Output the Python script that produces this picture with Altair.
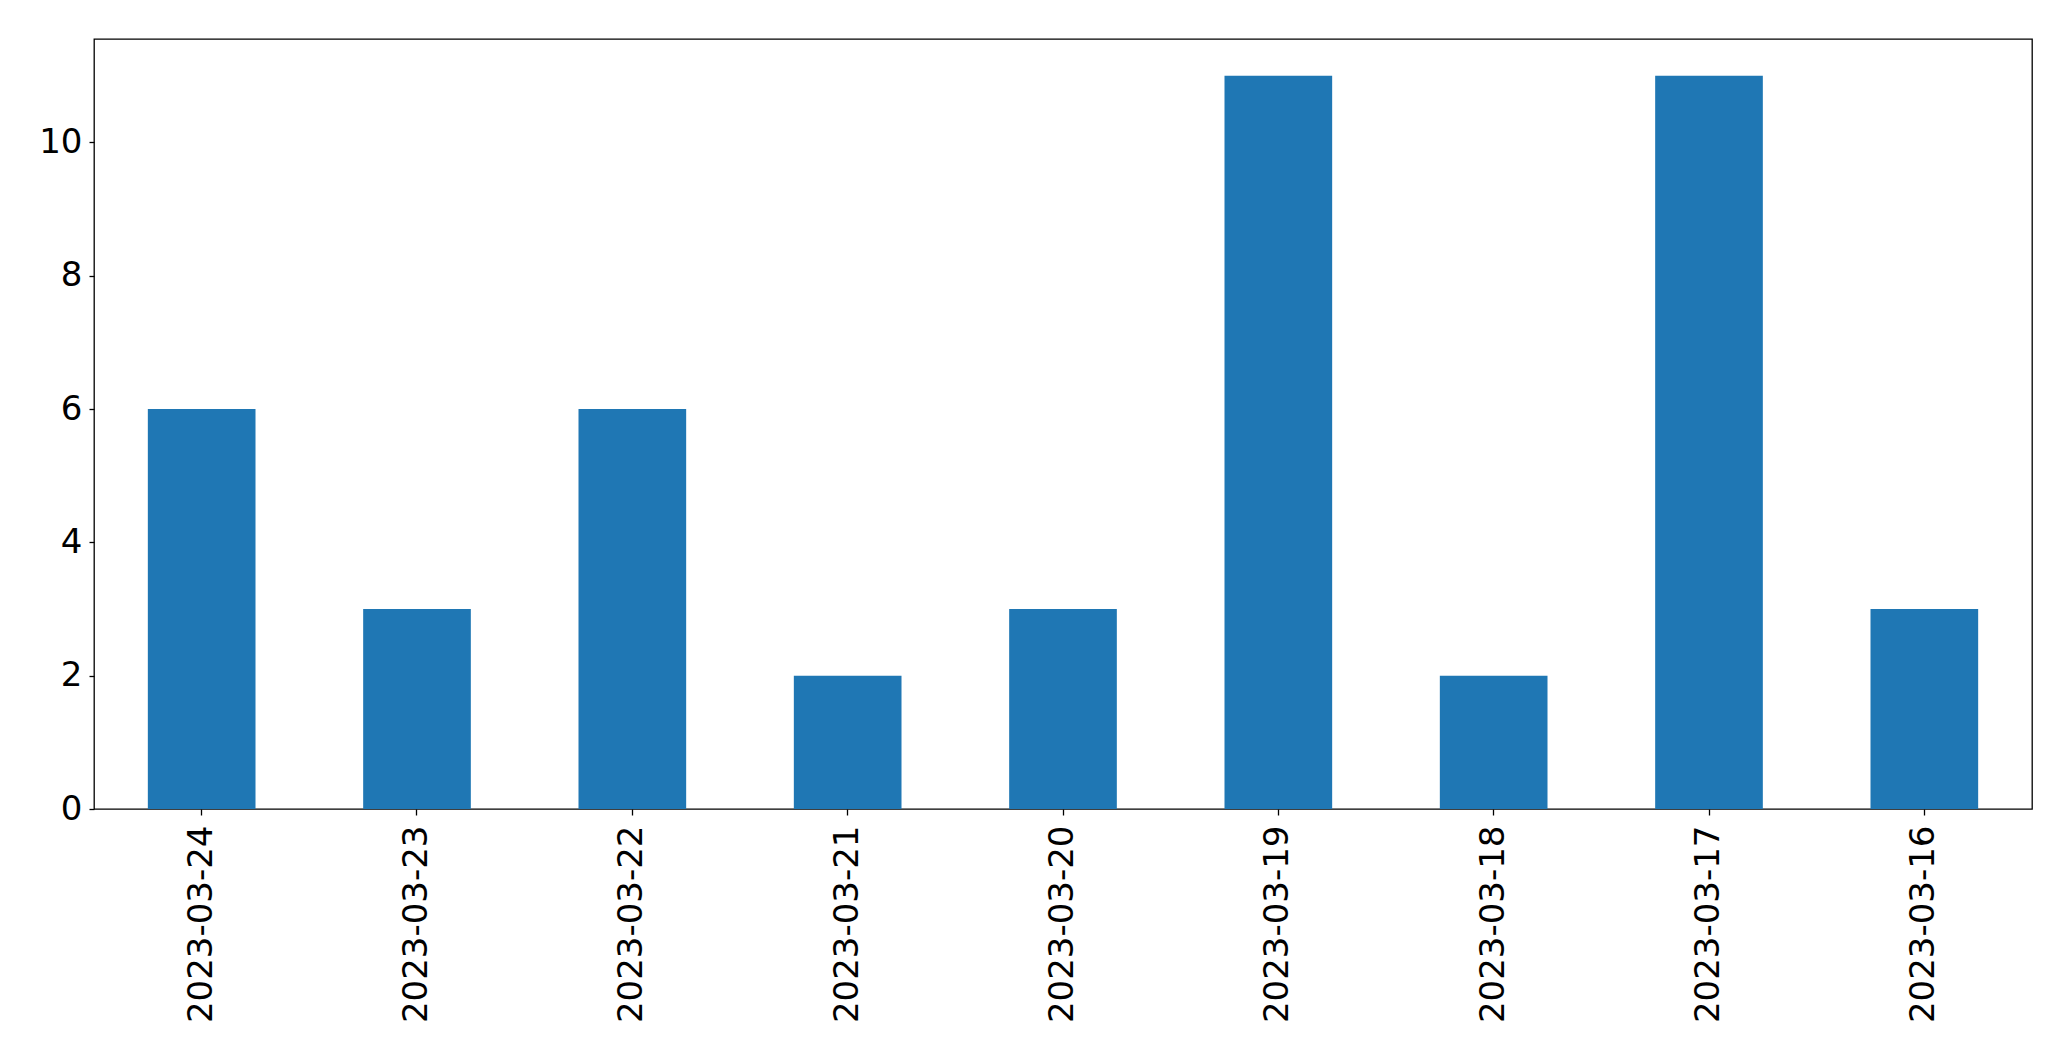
import altair as alt
import pandas as pd

dates = ["2023-03-24", "2023-03-23", "2023-03-22", "2023-03-21", "2023-03-20",
         "2023-03-19", "2023-03-18", "2023-03-17", "2023-03-16"]
counts = [6, 3, 6, 2, 3, 11, 2, 11, 3]

df = pd.DataFrame({"date": dates, "count": counts})

chart = alt.Chart(df).mark_bar(color="#1f77b4").encode(
    x=alt.X("date:N", sort=dates, title=None,
            scale=alt.Scale(paddingInner=0.5, paddingOuter=0.25),
            axis=alt.Axis(labelAngle=-90, labelFontSize=34, labelFont="DejaVu Sans",
                          labelColor="black", tickColor="black", tickSize=6,
                          tickWidth=1.3, labelPadding=10, domain=False, labelLimit=0)),
    y=alt.Y("count:Q", title=None,
            scale=alt.Scale(domain=[0, 11.55], nice=False, zero=True),
            axis=alt.Axis(values=[0, 2, 4, 6, 8, 10], grid=False, labelFontSize=34,
                          labelFont="DejaVu Sans", labelColor="black", tickColor="black",
                          tickSize=5, tickWidth=1.3, labelPadding=7, domain=False)),
).properties(
    width=1938, height=770,
    autosize=alt.AutoSizeParams(type="none"),
    padding={"left": 86, "top": 31, "right": 30, "bottom": 230},
).configure(
    background="white"
).configure_view(
    stroke="black", strokeWidth=1.3, strokeOpacity=1
)

chart.save("out.html", embed_options={"renderer": "svg", "actions": False})
